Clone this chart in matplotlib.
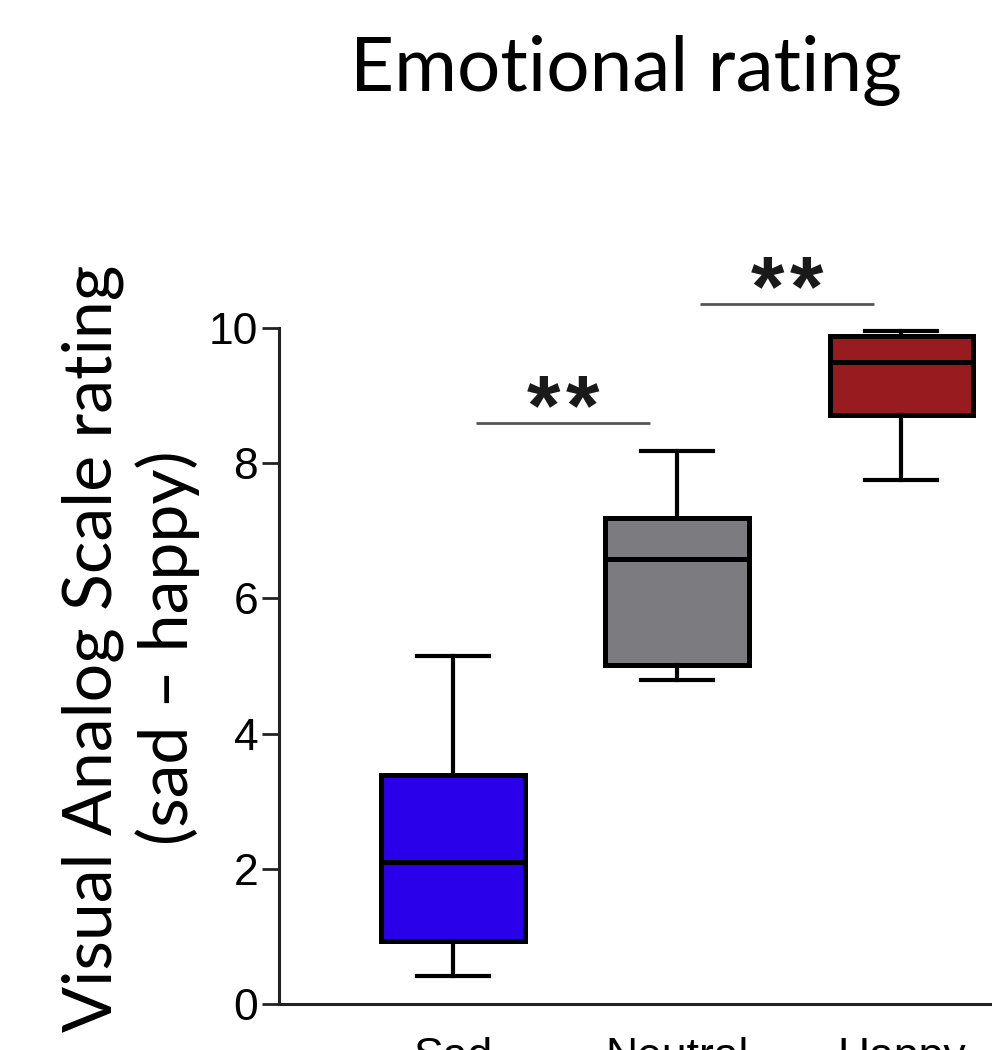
import matplotlib
matplotlib.use("Agg")
import matplotlib.pyplot as plt

# ---- data ----
categories = ["Sad", "Neutral", "Happy"]
whisker_low = [0.41, 4.79, 7.75]
q1 = [0.93, 5.01, 8.71]
medians = [2.10, 6.58, 9.50]
q3 = [3.39, 7.19, 9.88]
whisker_high = [5.15, 8.18, 9.96]
box_colors = ["#2a00ea", "#7c7b80", "#971b1f"]
yticks = [0, 2, 4, 6, 8, 10]
sig_pairs = [(0, 1), (1, 2)]
sig_labels = ["**", "**"]

title_text = "Emotional rating"
ylabel_text = "Visual Analog Scale rating\n(sad \u2013 happy)"

W, H = 992, 1050
fig = plt.figure(figsize=(W / 100, H / 100), dpi=100)
ax = fig.add_axes([279 / W, 46 / H, (W - 279) / W, (1004 - 328) / H])

stats = []
for i, name in enumerate(categories):
    stats.append(dict(label=name, whislo=whisker_low[i], q1=q1[i], med=medians[i],
                      q3=q3[i], whishi=whisker_high[i], fliers=[]))

positions = list(range(len(categories)))
bp = ax.bxp(stats, positions=positions, widths=0.64, capwidths=0.32,
            patch_artist=True, showfliers=False,
            boxprops=dict(linewidth=3.6, edgecolor="black"),
            medianprops=dict(linewidth=3.6, color="black", solid_capstyle="butt"),
            whiskerprops=dict(linewidth=3.0, color="black"),
            capprops=dict(linewidth=3.0, color="black"))
for patch, c in zip(bp["boxes"], box_colors):
    patch.set_facecolor(c)
    patch.set_joinstyle("miter")

ax.set_xlim(-0.777, 2.405)
ax.set_ylim(0, 10)
ax.set_yticks(yticks)
ax.set_yticklabels([str(v) for v in yticks], fontfamily="Liberation Sans", fontsize=32)
ax.set_xticks(positions)
ax.set_xticklabels(categories, fontfamily="Liberation Sans", fontsize=32)
ax.tick_params(axis="y", length=12, width=2, pad=3, color="#222222")
ax.tick_params(axis="x", length=0, pad=24)

for s in ["top", "right"]:
    ax.spines[s].set_visible(False)
for s in ["left", "bottom"]:
    ax.spines[s].set_linewidth(2.2)
    ax.spines[s].set_color("#222222")

# significance bars
sig_levels = [8.60, 10.36]
for (a, b), lab, lev in zip(sig_pairs, sig_labels, sig_levels):
    x0, x1 = a + 0.103, b - 0.121
    ax.plot([x0, x1], [lev, lev], color="#555555", linewidth=2.0, clip_on=False,
            solid_capstyle="butt")
    cx = (x0 + x1) / 2
    n = len(lab)
    for k, ch in enumerate(lab):
        ax.annotate(ch, xy=(cx, lev), xytext=((k - (n - 1) / 2) * 28, -8),
                    textcoords="offset points", ha="center", va="baseline",
                    fontsize=62, fontweight="bold", fontfamily="Liberation Sans",
                    color="#1a1a1a", annotation_clip=False)

fig.text(626 / W, 1 - 70 / H, title_text, ha="center", va="center",
         fontsize=55, fontfamily="Lato", color="black")
fig.text(131 / W, 1 - 648 / H, ylabel_text, ha="center", va="center",
         rotation=90, fontsize=49, fontfamily="Lato", color="black",
         multialignment="center", linespacing=1.22)

fig.savefig("out.png", dpi=100)
